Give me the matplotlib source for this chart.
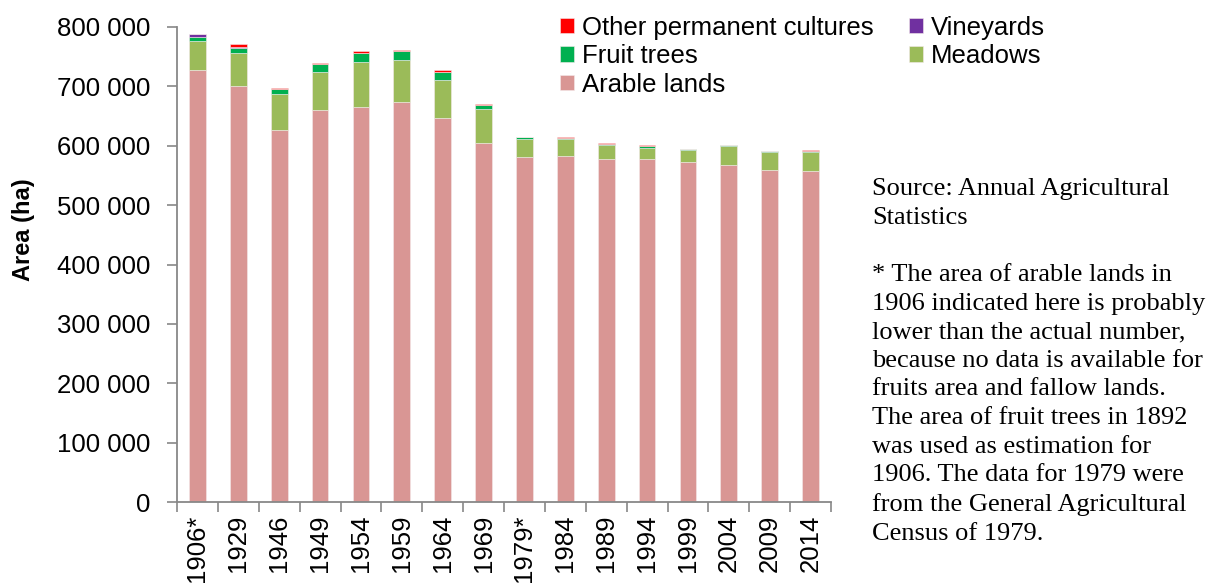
import matplotlib
matplotlib.use("Agg")
import matplotlib.pyplot as plt
from matplotlib.ticker import FuncFormatter, FixedLocator
import numpy as np

years = ["1906*", "1929", "1946", "1949", "1954", "1959", "1964", "1969",
         "1979*", "1984", "1989", "1994", "1999", "2004", "2009", "2014"]
arable = [727000, 700000, 627000, 661000, 666000, 673000, 646000, 604000,
          581000, 583000, 578000, 577000, 573000, 567000, 559000, 557000]
meadows = [49000, 57000, 60000, 64000, 75000, 72000, 65000, 58000,
           30000, 28000, 24000, 20000, 20000, 33000, 31000, 33000]
fruit = [7000, 8000, 9000, 13000, 16000, 14000, 14000, 7000,
         3000, 2000, 1500, 2000, 1000, 500, 1000, 1000]
vineyards = [6000, 1000, 0, 0, 0, 0, 0, 0,
             0, 0, 0, 0, 0, 0, 0, 0]
other = [0, 5000, 1500, 2000, 2000, 2000, 2000, 1000,
         1000, 1000, 1500, 1500, 1000, 1000, 500, 1000]

series = [("Arable lands", arable, "#D99694"),
          ("Meadows", meadows, "#9BBB59"),
          ("Fruit trees", fruit, "#00B050"),
          ("Vineyards", vineyards, "#7030A0"),
          ("Other permanent cultures", other, "#FF0000")]

plt.rcParams['font.family'] = ['Liberation Sans', 'DejaVu Sans']
FS = 18.5

fig = plt.figure(figsize=(12.08, 5.85), dpi=100)
ax = fig.add_axes([177/1208, (585-502)/585, (831-177)/1208, (502-27)/585])

x = np.arange(len(years))
bottom = np.zeros(len(years))
handles = {}
for name, vals, col in series:
    v = np.array(vals, dtype=float)
    b = ax.bar(x, v, bottom=bottom, width=0.41, color=col, label=name,
               edgecolor='#f4eaea', linewidth=0.4)
    handles[name] = b
    bottom += v

ax.set_xlim(-0.5, len(years) - 0.5)
ax.set_ylim(0, 800000)
ax.yaxis.set_major_locator(FixedLocator(np.arange(0, 800001, 100000)))
ax.yaxis.set_major_formatter(FuncFormatter(lambda v, p: f"{int(v):,}".replace(",", " ")))
ax.set_xticks(x)
ax.set_xticklabels(years, rotation=90, fontsize=FS)
ax.tick_params(axis='x', length=0, pad=9)
ax.set_xticks(np.arange(-0.5, len(years), 1), minor=True)
ax.tick_params(axis='x', which='minor', length=7, color='#888888', width=1.2)
ax.tick_params(axis='y', labelsize=FS, length=7, color='#888888', width=1.2, pad=12)
for s in ['top', 'right']:
    ax.spines[s].set_visible(False)
for s in ['left', 'bottom']:
    ax.spines[s].set_color('#888888')
    ax.spines[s].set_linewidth(1.3)
ax.set_ylabel("Area (ha)", fontsize=17, fontweight='bold')
ax.yaxis.set_label_coords((35 - 177) / 654, (502 - 230) / 475)

order = ["Other permanent cultures", "Fruit trees", "Arable lands", "Vineyards", "Meadows"]
fig.legend([handles[n] for n in order], order, loc='upper left',
           bbox_to_anchor=(547/1208, 1 - 3/585), ncol=2, frameon=False,
           fontsize=FS, handlelength=0.55, handleheight=0.55, handletextpad=0.3,
           columnspacing=1.38, labelspacing=0.17, borderpad=0)

txt = ("Source: Annual Agricultural\nStatistics\n\n"
       "* The area of arable lands in\n1906 indicated here is probably\n"
       "lower than the actual number,\nbecause no data is available for\n"
       "fruits area and fallow lands.\nThe area of fruit trees in 1892\n"
       "was used as estimation for\n1906. The data for 1979 were\n"
       "from the General Agricultural\nCensus of 1979.")
fig.text(872/1208, 1 - 178/585, txt, fontsize=19, family=['Liberation Serif'],
         va='top', ha='left', linespacing=1.39)

fig.savefig("out.png", dpi=100)
